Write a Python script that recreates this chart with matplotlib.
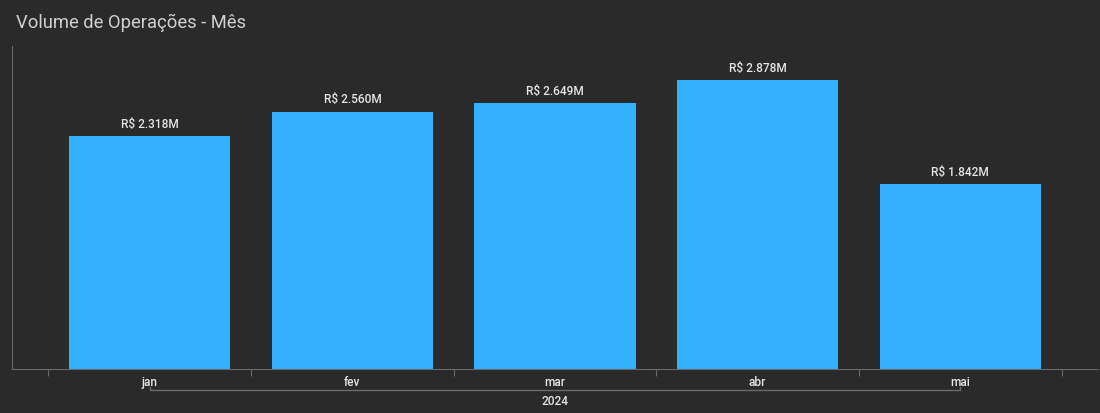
import numpy as np
import matplotlib.pyplot as plt
import matplotlib.transforms as mtransforms

# dados
meses = ['jan', 'fev', 'mar', 'abr', 'mai']
volume_mi = [2.318, 2.560, 2.649, 2.878, 1.842]
rotulos = ['R$ 2.318M', 'R$ 2.560M', 'R$ 2.649M', 'R$ 2.878M', 'R$ 1.842M']
ano = '2024'

fundo = '#2a2a2a'
azul = '#33b0ff'
cinza = '#6a6a6a'
texto = '#e6e6e6'

plt.rcParams['font.family'] = ['Roboto', 'DejaVu Sans']

fig = plt.figure(figsize=(11, 4.14), dpi=100, facecolor=fundo)
ax = fig.add_axes([12 / 1100, 44 / 414, 1086 / 1100, 323 / 414])
ax.set_facecolor(fundo)

x = np.arange(len(meses))
ax.bar(x, volume_mi, width=0.795, color=azul, zorder=2)

for xi, v, r in zip(x, volume_mi, rotulos):
    ax.annotate(r, (xi, v), xytext=(0, 4.5), textcoords='offset points',
                ha='center', va='bottom', color=texto, fontsize=8.6,
                fontweight='medium')

ax.set_xlim(-0.68, 4.68)
ax.set_ylim(0, 3.214)

for s in ['top', 'right']:
    ax.spines[s].set_visible(False)
ax.spines['left'].set_color(cinza)
ax.spines['bottom'].set_color(cinza)
ax.set_yticks([])

# ticks nas fronteiras, rotulos no centro
ax.set_xticks(np.arange(-0.5, len(meses), 1.0))
ax.set_xticklabels([])
ax.tick_params(axis='x', which='major', length=5, color=cinza)
ax.set_xticks(x, minor=True)
ax.set_xticklabels(meses, minor=True, color=texto, fontsize=8.6,
                   fontweight='medium')
ax.tick_params(axis='x', which='minor', length=0, pad=4)

# linha do agrupamento por ano
trans = mtransforms.blended_transform_factory(ax.transData, fig.transFigure)
y0 = 1 - 391 / 414
y1 = 1 - 388 / 414
ax.plot([x[0], x[0], x[-1], x[-1]], [y1, y0, y0, y1], color=cinza, lw=1,
        transform=trans, clip_on=False)
ax.text((x[0] + x[-1]) / 2, 1 - 402 / 414, ano, transform=trans,
        ha='center', va='center', color=texto, fontsize=8.6,
        fontweight='medium')

fig.text(16 / 1100, 1 - 23 / 414, 'Volume de Operações - Mês', ha='left',
         va='center', color='#d0d0d0', fontsize=13.2, fontweight='normal')

fig.savefig('out.png', dpi=100, facecolor=fundo)
